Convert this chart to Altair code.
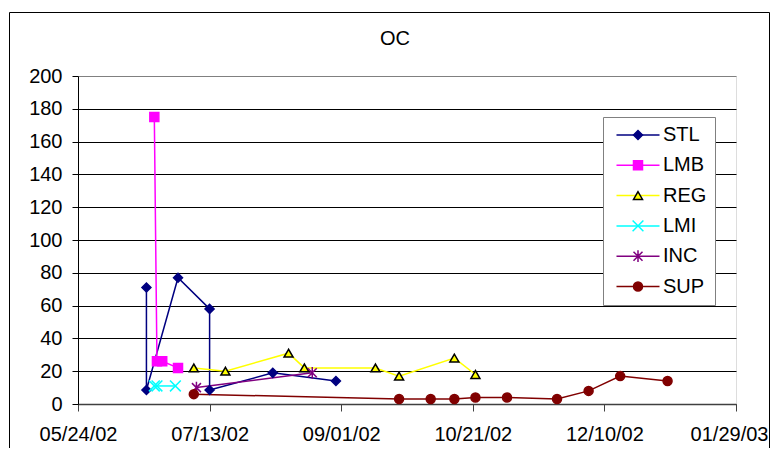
import altair as alt
import pandas as pd

series_names = ["STL", "LMB", "REG", "LMI", "INC", "SUP"]
line_colors = ["#000080", "#FF00FF", "#FFFF00", "#00FFFF", "#800080", "#800000"]
marker_fills = ["#000080", "#FF00FF", "#FFFF00", "#00FFFF", "#800080", "#800000"]
marker_strokes = ["#000080", "#FF00FF", "#000000", "#00FFFF", "#800080", "#800000"]
marker_shapes = [
    "diamond",
    "square",
    "triangle-up",
    "M-1.2,-1.2L1.2,1.2M-1.2,1.2L1.2,-1.2",
    "M-1,-1L1,1M-1,1L1,-1M0,-1.3L0,1.3",
    "circle",
]

stl_dates = ["2002-06-19", "2002-06-19", "2002-07-01", "2002-07-13", "2002-07-13", "2002-08-06", "2002-08-30"]
stl_values = [71, 8.5, 77, 58, 8.5, 19, 14]

lmb_dates = ["2002-06-22", "2002-06-23", "2002-06-25", "2002-07-01"]
lmb_values = [175, 26, 26, 22]

reg_dates = ["2002-07-07", "2002-07-19", "2002-08-12", "2002-08-18", "2002-09-14", "2002-09-23", "2002-10-14", "2002-10-22"]
reg_values = [22, 20, 31, 22, 22, 17, 28, 18]

lmi_dates = ["2002-06-22", "2002-06-23", "2002-06-30"]
lmi_values = [11, 11, 11]

inc_dates = ["2002-07-08", "2002-08-21"]
inc_values = [10, 19]

sup_dates = ["2002-07-07", "2002-09-23", "2002-10-05", "2002-10-14", "2002-10-22", "2002-11-03",
             "2002-11-22", "2002-12-04", "2002-12-16", "2003-01-03"]
sup_values = [6, 3, 3, 3, 4, 4, 3, 8, 17, 14]

x_tick_dates = ["2002-05-24", "2002-07-13", "2002-09-01", "2002-10-21", "2002-12-10", "2003-01-29"]
y_ticks = [0, 20, 40, 60, 80, 100, 120, 140, 160, 180, 200]

series_data = {
    "STL": (stl_dates, stl_values),
    "LMB": (lmb_dates, lmb_values),
    "REG": (reg_dates, reg_values),
    "LMI": (lmi_dates, lmi_values),
    "INC": (inc_dates, inc_values),
    "SUP": (sup_dates, sup_values),
}

rows = []
for name in series_names:
    dates, vals = series_data[name]
    for i, (d, v) in enumerate(zip(dates, vals)):
        rows.append({"series": name, "date": d, "value": v, "idx": i})
df = pd.DataFrame(rows)


def dt(s):
    y, m, d = (int(p) for p in s.split("-"))
    return alt.DateTime(year=y, month=m, date=d, utc=True)


FONT = "Liberation Sans"
FS = 20

x_enc = alt.X(
    "date:T",
    scale=alt.Scale(type="utc", domain=[dt(x_tick_dates[0]), dt(x_tick_dates[-1])], nice=False),
    axis=alt.Axis(
        values=[dt(s) for s in x_tick_dates],
        labelExpr="utcFormat(datum.value, '%m/%d/%y')",
        title=None,
        grid=False,
        domainColor="#404040",
        domainWidth=1.5,
        tickColor="#404040",
        tickSize=7,
        labelPadding=13,
        labelFont=FONT,
        labelFontSize=FS,
        labelColor="black",
        labelFlush=False,
        labelOverlap=False,
        labelOffset={"condition": {"test": "datum.index > 0.99", "value": -7}, "value": 0},
    ),
)

y_enc = alt.Y(
    "value:Q",
    scale=alt.Scale(domain=[0, 200], nice=False),
    axis=alt.Axis(
        values=y_ticks,
        title=None,
        grid=True,
        gridColor={"condition": {"test": "datum.value == 200", "value": "#808080"}, "value": "#000000"},
        gridWidth=1,
        domainColor="#000000",
        tickColor="#000000",
        tickSize=6,
        labelPadding=10,
        labelFont=FONT,
        labelFontSize=FS,
        labelColor="black",
    ),
)

legend_common = dict(
    title=None,
    orient="none",
    legendX=525,
    legendY=41,
    symbolSize=81,
    symbolStrokeWidth=1.5,
    symbolOffset=17,
    labelOffset=15,
    labelFont=FONT,
    labelFontSize=FS,
    labelColor="black",
    rowPadding=10.3,
    padding=8,
)

legend_lines = alt.Legend(
    symbolType="M-4.78,0H4.78",
    fillColor="white",
    strokeColor="#808080",
    **legend_common,
)
legend_marks = alt.Legend(labelOpacity=0, **legend_common)

base = alt.Chart(df)

lines = base.mark_line(strokeWidth=1.5).encode(
    x=x_enc,
    y=y_enc,
    color=alt.Color("series:N", scale=alt.Scale(domain=series_names, range=line_colors), legend=legend_lines),
    order=alt.Order("idx:Q"),
)

points = base.mark_point(filled=True, size=81, strokeWidth=1.5, opacity=1).encode(
    x=x_enc,
    y=y_enc,
    fill=alt.Fill("series:N", scale=alt.Scale(domain=series_names, range=marker_fills), legend=legend_marks),
    stroke=alt.Stroke("series:N", scale=alt.Scale(domain=series_names, range=marker_strokes), legend=legend_marks),
    shape=alt.Shape("series:N", scale=alt.Scale(domain=series_names, range=marker_shapes), legend=legend_marks),
)

frame = alt.Chart(pd.DataFrame({"f": [0]})).mark_rect(fillOpacity=0, stroke="black", strokeWidth=1).encode(
    x=alt.value(-68.5), x2=alt.value(691.5), y=alt.value(-63.5), y2=alt.value(420)
)

chart = (
    alt.layer(frame, lines, points)
    .resolve_legend(color="independent", fill="independent", stroke="independent", shape="independent")
    .properties(
        width=658,
        height=328,
        autosize=alt.AutoSizeParams(type="none"),
        padding={"left": 70, "top": 68, "right": 34, "bottom": 44},
        title=alt.TitleParams(
            text="OC", font=FONT, fontSize=FS, fontWeight="normal", color="black",
            anchor="middle", dx=-12, offset=-36.5,
        ),
    )
    .configure_view(stroke="#808080", strokeWidth=1.5)
    .configure(background="white")
)

chart.save("out.html", embed_options={"renderer": "svg", "actions": False})
